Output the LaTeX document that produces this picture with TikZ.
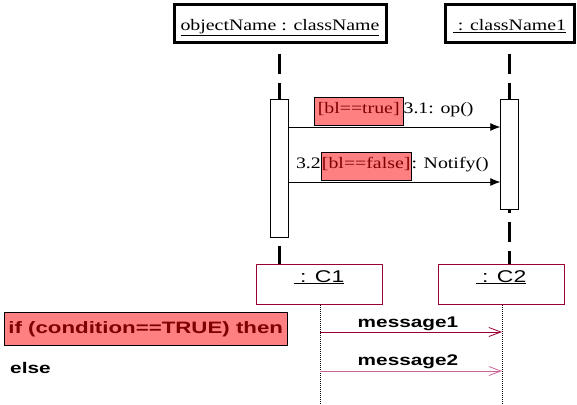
\documentclass[tikz,border=0pt]{standalone}
\usepackage{fontspec}
\setmainfont{Liberation Serif}
\setsansfont{Liberation Sans}
\newfontfamily\wideserif[FakeStretch=1.24]{Liberation Serif}
\newfontfamily\widesans[FakeStretch=1.35]{Liberation Sans}
\usetikzlibrary{arrows.meta}
\definecolor{guard}{RGB}{255,128,128}
\definecolor{guardtext}{RGB}{128,0,0}
\definecolor{plum}{RGB}{153,0,51}
\definecolor{plumlight}{RGB}{204,102,153}

\begin{document}
\begin{tikzpicture}[x=1pt, y=-1pt,
  objbox/.style={draw, line width=3pt, minimum width=212pt, minimum height=38pt,
                 font=\wideserif\fontsize{16}{18}\selectfont, inner sep=0pt,
                 text height=14pt, text depth=1pt},
  actbox/.style={draw, fill=white, minimum width=18pt, inner sep=0pt},
  clsbox/.style={draw=plum, line width=1pt, minimum width=126pt, minimum height=40pt,
                 inner sep=0pt},
  clslabel/.style={font=\widesans\fontsize{17}{18}\selectfont, inner sep=0pt},
  guardbox/.style={draw, fill=guard, text=guardtext, inner sep=1pt},
  life/.style={line width=3pt, dash pattern=on 20pt off 9pt},
  dotlife/.style={densely dotted, line width=1pt},
  msg/.style={-{Latex[length=10pt,width=8pt]}, line width=0.8pt},
  amsg/.style={-{Straight Barb[length=12pt,width=9pt]}, line width=0.8pt},
  mlabel/.style={font=\wideserif\fontsize{16}{18}\selectfont, inner sep=0pt},
  slabel/.style={font=\widesans\bfseries\fontsize{15.4}{17}\selectfont, inner sep=0pt}
]
\useasboundingbox (0,0) rectangle (577,404);

% top objects
\node[objbox] (O1) at (280,24) {\underline{objectName : className}};
\node[objbox, minimum width=129pt] (O2) at (509.5,24) {\underline{\ : className1}};

% activations
\node[actbox, minimum height=138pt] (A1) at (279,168) {};
\node[actbox, minimum height=110pt] (A2) at (509.5,154) {};

% bottom objects
\node[clsbox, anchor=north west] (C1) at (256,264) {};
\node[clslabel, anchor=base] (C1t) at (319,282) {\underline{\ : C1}};
\node[clsbox, anchor=north west] (C2) at (438,264) {};
\node[clslabel, anchor=base] (C2t) at (501,282) {\underline{\ : C2}};

% lifelines
\draw[life, dash phase=20pt] (O1.south -| A1) -- (A1.north);
\draw[life, dash phase=20pt] (O2.south -| A2) -- (A2.north);
\draw[life, dash phase=20pt] (A1.south) -- (A1.south |- C1.north);
\draw[life, dash phase=16pt] (A2.south) -- (A2.south |- C2.north);
\coordinate (L1) at (320,404);
\coordinate (L2) at (502,404);
\draw[dotlife] (C1.south -| L1) -- (L1);
\draw[dotlife] (C2.south -| L2) -- (L2);

% messages
\coordinate (m1) at (0,127);
\coordinate (m2) at (0,182);
\draw[msg] (A1.east |- m1) -- (A2.west |- m1);
\draw[msg] (A1.east |- m2) -- (A2.west |- m2);
\node[guardbox, mlabel, anchor=south west, minimum height=28pt, minimum width=89pt,
      text height=12pt, text depth=6pt] (G1) at (314,125) {[bl==true]};
\node[mlabel, anchor=base west] (T1) at (G1.base east) {3.1: op()};
\node[guardbox, mlabel, anchor=south west, minimum height=28pt, minimum width=90pt,
      text height=12pt, text depth=6pt] (G2) at (321,180) {[bl==false]};
\node[mlabel, anchor=base east] (T2) at (G2.base west) {3.2};
\node[mlabel, anchor=base west] (T3) at (G2.base east) {: Notify()};

\coordinate (n1) at (0,332);
\coordinate (n2) at (0,371);
\draw[amsg, plum] (L1 |- n1) -- (L2 |- n1);
\draw[amsg, plumlight] (L1 |- n2) -- (L2 |- n2);
\node[slabel, anchor=base] (M1) at (408,327) {message1};
\node[slabel, anchor=base] (M2) at (408,365) {message2};

% condition
\node[guardbox, slabel, font=\widesans\bfseries\fontsize{16.5}{18}\selectfont, text=guardtext,
      anchor=north west, minimum width=283pt, minimum height=33pt,
      text height=13pt, text depth=4pt] (IF) at (4,312) {if (condition==TRUE) then};
\node[slabel, anchor=base west] (EL) at (10,373) {else};
\end{tikzpicture}
\end{document}
